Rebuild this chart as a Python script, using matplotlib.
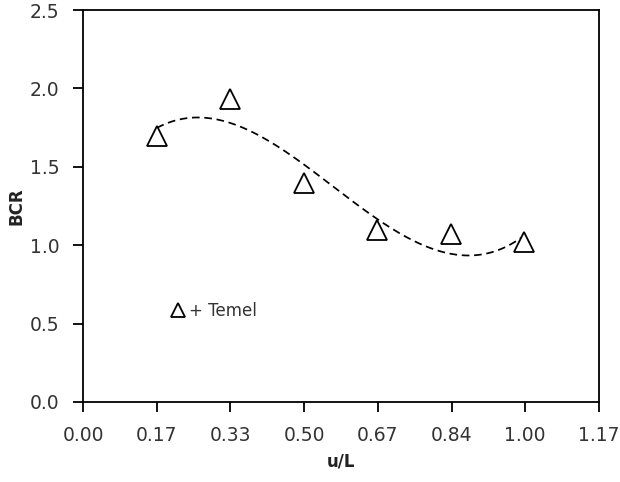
import numpy as np
import matplotlib.pyplot as plt

# Temel data: normalised position vs BCR
u_over_L = [0.167, 0.333, 0.500, 0.667, 0.833, 1.000]
bcr = [1.70, 1.93, 1.40, 1.10, 1.07, 1.02]

x_ticks = [0.0, 0.167, 0.334, 0.501, 0.668, 0.835, 1.002, 1.169]
x_tick_labels = ['0.00', '0.17', '0.33', '0.50', '0.67', '0.84', '1.00', '1.17']
y_ticks = [0.0, 0.5, 1.0, 1.5, 2.0, 2.5]

plt.rcParams['font.family'] = 'DejaVu Sans'

fig = plt.figure(figsize=(6.2, 4.82), dpi=100)
ax = fig.add_axes([0.134, 0.166, 0.832, 0.813])

# cubic trendline through the points
coef = np.polyfit(u_over_L, bcr, 3)
xs = np.linspace(min(u_over_L), max(u_over_L), 200)
ax.plot(xs, np.polyval(coef, xs), color='black', lw=1.25, dashes=(4.4, 2.7))

ax.plot(u_over_L, bcr, linestyle='none', marker='^', ms=14,
        markerfacecolor='white', markeredgecolor='black', mew=1.3,
        label='+ Temel')

ax.set_xlim(0, 1.169)
ax.set_ylim(0, 2.5)
ax.set_xticks(x_ticks)
ax.set_xticklabels(x_tick_labels)
ax.set_yticks(y_ticks)
ax.set_yticklabels([f'{v:.1f}' for v in y_ticks])
ax.tick_params(direction='out', length=7, width=1.3, labelsize=13.5,
               labelcolor='#333333', pad=10)
for s in ax.spines.values():
    s.set_linewidth(1.3)

ax.set_xlabel('u/L', fontsize=12, fontweight='bold', labelpad=6, color='#222222')
ax.set_ylabel('BCR', fontsize=12, fontweight='bold', labelpad=3, color='#222222')

leg = ax.legend(loc='center left', bbox_to_anchor=(0.168, 0.232), frameon=False,
                fontsize=12, handletextpad=0.15, handlelength=1.0,
                markerscale=0.7, borderpad=0, borderaxespad=0)
for t in leg.get_texts():
    t.set_color('#333333')

fig.savefig('out.png', dpi=100)
